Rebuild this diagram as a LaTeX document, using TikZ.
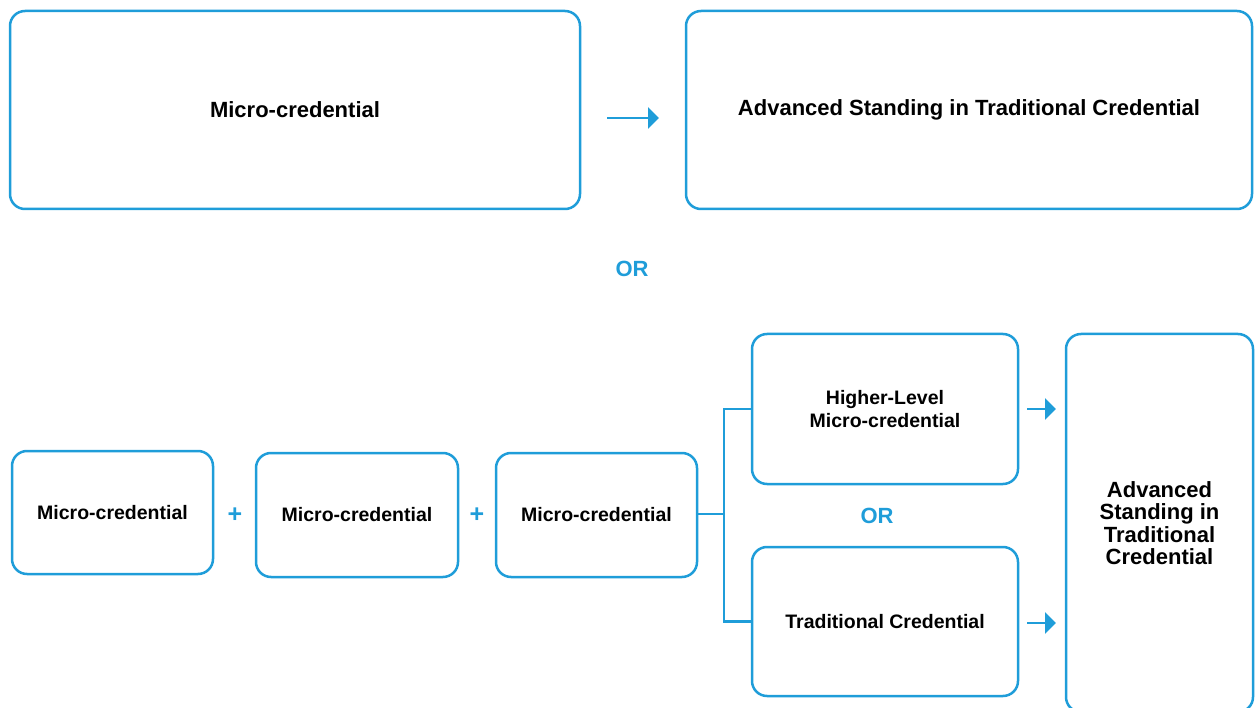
\documentclass[tikz,border=0pt]{standalone}
\usepackage{fontspec}
\setmainfont{Liberation Sans}
\usetikzlibrary{arrows.meta}
\definecolor{cblue}{RGB}{31,157,217}
\begin{document}
\begin{tikzpicture}[x=1pt,y=-1pt,
  box/.style={draw=cblue, line width=2.5pt, rounded corners=15pt, inner sep=0pt, align=center, font=\bfseries},
  bigtxt/.style={font=\fontsize{22}{24}\selectfont\bfseries},
  smalltxt/.style={font=\fontsize{19.5}{23}\selectfont\bfseries},
  conn/.style={draw=cblue, line width=2.5pt},
  arr/.style={draw=cblue, line width=2.5pt, -{Triangle[length=11pt,width=21pt]}},
  bluetxt/.style={text=cblue, font=\fontsize{22}{24}\selectfont\bfseries, inner sep=0pt},
  plustxt/.style={text=cblue, font=\fontsize{25}{26}\selectfont\bfseries, inner sep=0pt}
]
\useasboundingbox (0,0) rectangle (1255,708);
% top row
\node[box, bigtxt, minimum width=570pt, minimum height=198pt] (A) at (295,110) {Micro-credential};
\node[box, bigtxt, minimum width=566pt, minimum height=198pt] (B) at (969,110) {Advanced Standing in Traditional Credential};
\coordinate (a1) at (607,118);
\coordinate (a2) at (659,118);
\draw[arr] (a1) -- (a2);
\node[bluetxt] (or1) at (632,269) {OR};
% bottom row
\node[box, smalltxt, minimum width=201pt, minimum height=123pt] (C) at (112.5,512.5) {Micro-credential};
\node[plustxt] (p1) at (235,515) {+};
\node[box, smalltxt, minimum width=202pt, minimum height=124pt] (D) at (357,515) {Micro-credential};
\node[plustxt] (p2) at (477,515) {+};
\node[box, smalltxt, minimum width=201pt, minimum height=124pt] (E) at (596.5,515) {Micro-credential};
\node[box, smalltxt, minimum width=266pt, minimum height=150pt] (F) at (885,409) {Higher-Level\\Micro-credential};
\node[box, smalltxt, minimum width=266pt, minimum height=149pt] (G) at (885,621.5) {Traditional Credential};
\node[bluetxt] (or2) at (877,516) {OR};
\node[box, font=\fontsize{22}{22.4}\selectfont\bfseries, minimum width=187pt, minimum height=378pt] (H) at (1159.5,523) {Advanced\\Standing in\\Traditional\\Credential};
% connectors
\coordinate (j) at (724,514);
\draw[conn] (E.east |- j) -- (j);
\draw[conn] (F.west) -| (j) |- (G.west);
\coordinate (b1) at (1027,409);
\coordinate (b2) at (1056,409);
\coordinate (c1) at (1027,623);
\coordinate (c2) at (1056,623);
\draw[arr] (b1) -- (b2);
\draw[arr] (c1) -- (c2);
\end{tikzpicture}
\end{document}
